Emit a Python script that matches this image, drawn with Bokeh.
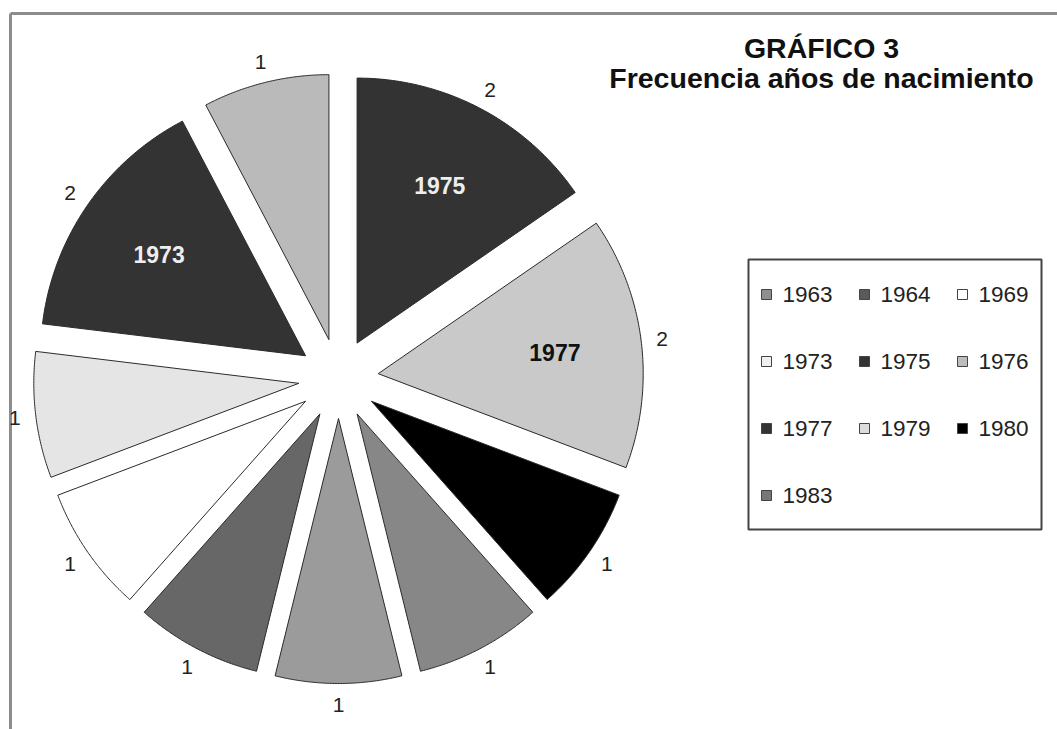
import numpy as np
from bokeh.plotting import figure
from bokeh.models import Range1d, ColumnDataSource, Label
from bokeh.core.properties import value
from bokeh.embed import file_html
from bokeh.resources import INLINE

# ---------------- data ----------------
# slices in clockwise order starting at 12 o'clock
years = ["1975", "1977", "1980", "1983", "1963", "1964", "1969", "1979", "1973", "1976"]
counts = [2, 2, 1, 1, 1, 1, 1, 1, 2, 1]
slice_colors = ["#333333", "#c9c9c9", "#000000", "#878787", "#9b9b9b",
                "#676767", "#ffffff", "#e5e5e5", "#333333", "#bababa"]
legend_years = sorted(years)
legend_swatch = {"1963": "#8f8f8f", "1964": "#5a5a5a", "1969": "#ffffff",
                 "1973": "#f0f0f0", "1975": "#333333", "1976": "#bdbdbd",
                 "1977": "#333333", "1979": "#dcdcdc", "1980": "#000000",
                 "1983": "#777777"}
title_lines = ["GRÁFICO 3", "Frecuencia años de nacimiento"]

FONT_NAME = "Liberation Sans"
FONT = value(FONT_NAME)

# ---------------- figure (data units == picture pixels) ----------------
W, H = 1057, 729
p = figure(width=W, height=H, x_range=Range1d(0, W), y_range=Range1d(H, 0),
           output_backend="svg", toolbar_location=None,
           x_axis_type=None, y_axis_type=None, min_border=0,
           outline_line_color=None, background_fill_color="white",
           border_fill_color="white")

# frame (left and top edges)
FL, FT = 10, 13
p.segment(x0=[FL, FL], y0=[FT, FT], x1=[FL, W], y1=[H, FT],
          line_color="#8c8c8c", line_width=3)

# ---------------- exploded pie ----------------
CX, CY, R, EXPLODE = 338, 378, 265, 40
D_IN, D_OUT = 218, 326
total = float(sum(counts))
edges = np.concatenate([[0.0], np.cumsum(counts)]) / total * 2 * np.pi

xs, ys, mids = [], [], []
for a0, a1 in zip(edges[:-1], edges[1:]):
    mid = (a0 + a1) / 2
    mids.append(mid)
    ox = CX + EXPLODE * np.sin(mid)
    oy = CY - EXPLODE * np.cos(mid)
    t = np.linspace(a0, a1, 80)
    xs.append([ox] + list(ox + R * np.sin(t)))
    ys.append([oy] + list(oy - R * np.cos(t)))
mids = np.array(mids)

src = ColumnDataSource(dict(xs=xs, ys=ys, color=slice_colors, year=years, n=counts))
p.patches("xs", "ys", source=src, fill_color="color", line_color="#2a2a2a", line_width=1)

# value labels outside
p.text(x=list(CX + D_OUT * np.sin(mids)), y=list(CY - D_OUT * np.cos(mids)),
       text=[str(c) for c in counts], text_font=FONT, text_font_size=value("21px"),
       text_color="#222222", text_align="center", text_baseline="middle")

# category labels inside the larger slices
big = [i for i, c in enumerate(counts) if c > 1]
in_colors = ["#111111" if slice_colors[i] > "#888888" else "#eeeeee" for i in big]
p.text(x=[CX + D_IN * np.sin(mids[i]) for i in big],
       y=[CY - D_IN * np.cos(mids[i]) for i in big],
       text=[years[i] for i in big], text_color=in_colors,
       text_font=FONT, text_font_size=value("23px"), text_font_style="bold",
       text_align="center", text_baseline="middle")

# ---------------- title ----------------
TX = 821
for line, base in zip(title_lines, [47, 77]):
    p.add_layout(Label(x=TX, y=base, text=line, text_font=FONT_NAME,
                       text_font_size="28.5px", text_font_style="bold", text_color="#111111",
                       text_align="center", text_baseline="alphabetic"))

# ---------------- legend ----------------
LEG_L, LEG_R, LEG_T, LEG_B = 748, 1041, 259, 529
p.quad(left=[LEG_L], right=[LEG_R], top=[LEG_T], bottom=[LEG_B],
       fill_color="white", line_color="#444444", line_width=2)
SW_X0, TXT_X0, ROW_Y0, COL_W, ROW_H = 766, 782, 294, 98, 67
cols = [i % 3 for i in range(len(legend_years))]
rows = [i // 3 for i in range(len(legend_years))]
p.rect(x=[SW_X0 + COL_W * c for c in cols], y=[ROW_Y0 + ROW_H * r for r in rows],
       width=10, height=10, fill_color=[legend_swatch[y] for y in legend_years],
       line_color="#444444", line_width=1)
p.text(x=[TXT_X0 + COL_W * c for c in cols], y=[ROW_Y0 + ROW_H * r for r in rows],
       text=legend_years, text_font=FONT, text_font_size=value("22.5px"),
       text_color="#222222", text_align="left", text_baseline="middle")

open("out.html", "w").write(file_html(p, INLINE))
